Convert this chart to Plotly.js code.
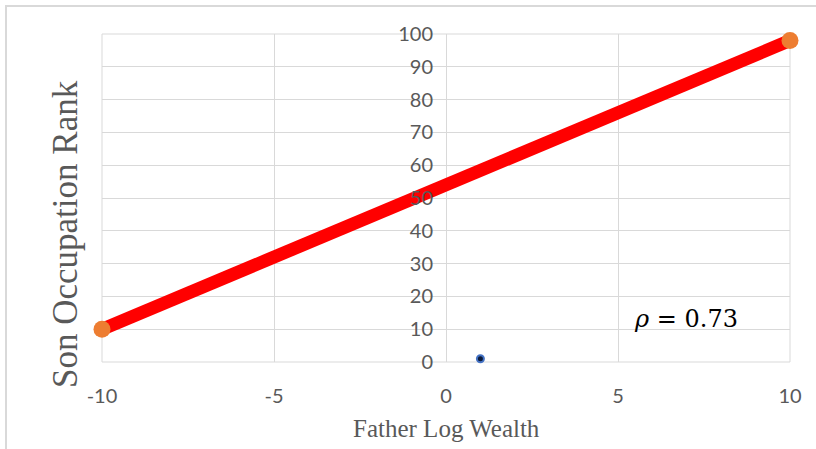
<!DOCTYPE html>
<html>
<head>
<meta charset="utf-8">
<script src="https://cdn.plot.ly/plotly-3.0.1.min.js"></script>
<style>html,body{margin:0;padding:0;background:#fff;}#chart{width:816px;height:449px;}</style>
</head>
<body>
<div id="chart"></div>
<script>
// Data
const lineX = [-10, 10];
const lineY = [10, 98];
const pointX = [1];
const pointY = [1];
const xTicks = [-10, -5, 0, 5, 10];
const yTicks = [0, 10, 20, 30, 40, 50, 60, 70, 80, 90, 100];
const rhoLabel = "<i>ρ</i> = 0.73";
const rhoPos = [6.98, 13.2];
const xTitle = "Father Log Wealth";
const yTitle = "Son Occupation Rank";

const grey = "#595959";
const gridC = "#d9d9d9";

const traces = [
  {x: lineX, y: lineY, mode: "lines", line: {color: "#ff0000", width: 13}, cliponaxis: false, hoverinfo: "skip", showlegend: false},
  {x: lineX, y: lineY, mode: "markers", marker: {color: "#ED7D31", size: 17}, cliponaxis: false, showlegend: false},
  {x: pointX, y: pointY, mode: "markers", marker: {color: "#0b1a3a", size: 7, line: {color: "#4472C4", width: 2}}, cliponaxis: false, showlegend: false}
];

const L = 102, R = 26, T = 34, B = 87;
const W = 816 - L - R, H = 449 - T - B;

const layout = {
  width: 816, height: 449,
  margin: {l: L, r: R, t: T, b: B, pad: 0},
  paper_bgcolor: "#ffffff", plot_bgcolor: "#ffffff",
  showlegend: false,
  xaxis: {
    range: [-10, 10], domain: [0, 1],
    tickvals: xTicks, ticktext: xTicks.map(String),
    showgrid: true, gridcolor: gridC, gridwidth: 1,
    zeroline: false, showline: false,
    ticks: "", ticklabelstandoff: 20,
    tickfont: {family: "Lato, 'Open Sans', sans-serif", size: 20, color: grey},
    fixedrange: true
  },
  yaxis: {
    range: [0, 100], anchor: "free", position: 0.5,
    tickvals: yTicks, ticktext: yTicks.map(String),
    showgrid: true, gridcolor: gridC, gridwidth: 1,
    zeroline: false, showline: false,
    ticks: "", ticklabelstandoff: 13,
    tickfont: {family: "Lato, 'Open Sans', sans-serif", size: 20, color: grey},
    fixedrange: true
  },
  shapes: [
    {type: "rect", xref: "paper", yref: "paper", x0: 0, x1: 1, y0: 0, y1: 1, line: {color: gridC, width: 1}, layer: "below"},
    {type: "rect", xref: "paper", yref: "paper", x0: (6 - L) / W, x1: (830 - L) / W, y0: 1 + (T - 6) / H, y1: -(B + 20) / H, line: {color: gridC, width: 2}, layer: "below"}
  ],
  annotations: [
    {xref: "x", yref: "y", x: rhoPos[0], y: rhoPos[1], text: rhoLabel, showarrow: false,
     font: {family: "'DejaVu Serif', 'Liberation Serif', serif", size: 24, color: "#000000"}},
    {xref: "paper", yref: "paper", x: 0.5, y: -(428 - 362) / H, text: xTitle, showarrow: false,
     xanchor: "center", yanchor: "middle",
     font: {family: "'Liberation Serif', serif", size: 25, color: grey}},
    {xref: "paper", yref: "paper", x: (65 - L) / W, y: (362 - 234) / H, text: yTitle, showarrow: false,
     textangle: -90, xanchor: "center", yanchor: "middle",
     font: {family: "'Liberation Serif', serif", size: 35, color: grey}}
  ]
};

Plotly.newPlot("chart", traces, layout, {displayModeBar: false, staticPlot: true});
</script>
</body>
</html>
